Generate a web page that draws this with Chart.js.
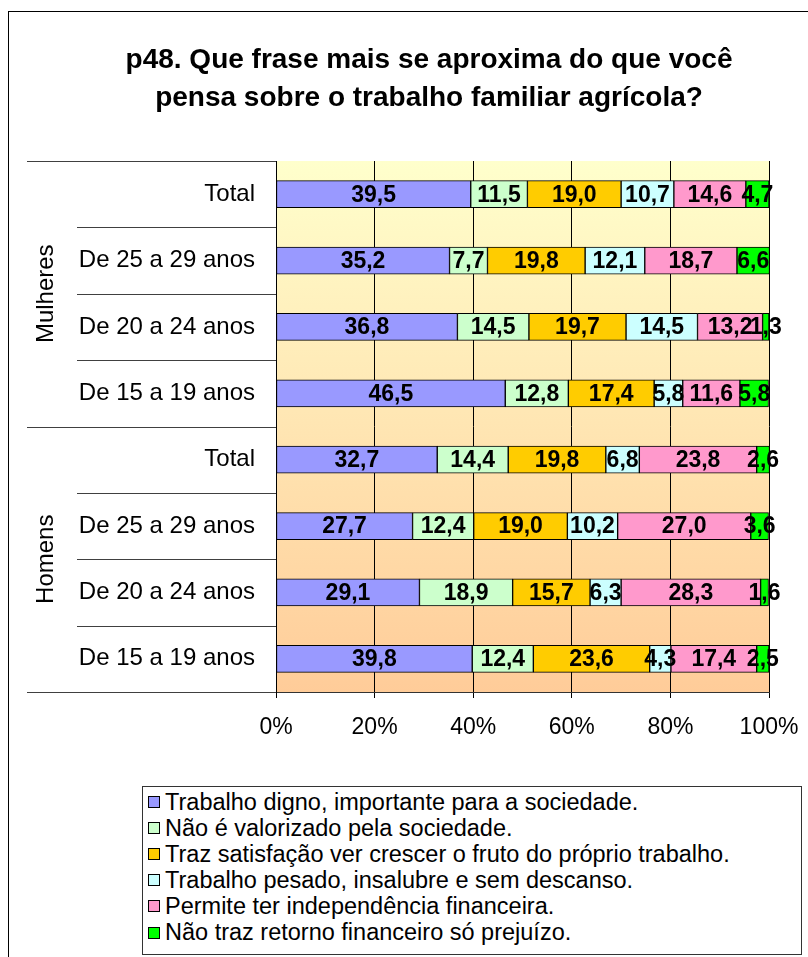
<!DOCTYPE html>
<html>
<head>
<meta charset="utf-8">
<script src="https://cdn.jsdelivr.net/npm/chart.js@4.4.1/dist/chart.umd.min.js"></script>
<style>
  html, body { margin: 0; padding: 0; background: #fff; overflow: hidden; }
  #wrap { position: relative; width: 808px; height: 957px; }
  #c { position: absolute; left: 0; top: 0; }
  #legend {
    position: absolute; left: 142px; top: 786px; width: 660px; height: 169px;
    border: 1px solid #333; box-sizing: border-box; background: #fff;
    font-family: "Liberation Sans", Arial, sans-serif; font-size: 23.5px; color: #000;
    padding: 1.5px 0 0 5px; overflow: hidden;
  }
  .li { height: 26.2px; line-height: 26.2px; white-space: nowrap; display: flex; align-items: center; }
  .sw { display: inline-block; width: 10px; height: 10px; border: 1px solid #000; margin-right: 5px; flex: none; }
</style>
</head>
<body>
<div id="wrap">
  <canvas id="c" width="808" height="957"></canvas>
  <div id="legend"></div>
</div>
<script>
// ---- data ----
const titleLines = ["p48. Que frase mais se aproxima do que você", "pensa sobre o trabalho familiar agrícola?"];
const groups = ["Mulheres", "Homens"];
const categories = [
  "Total", "De 25 a 29 anos", "De 20 a 24 anos", "De 15 a 19 anos",
  "Total", "De 25 a 29 anos", "De 20 a 24 anos", "De 15 a 19 anos"
];
const seriesNames = [
  "Trabalho digno, importante para a sociedade.",
  "Não é valorizado pela sociedade.",
  "Traz satisfação ver crescer o fruto do próprio trabalho.",
  "Trabalho pesado, insalubre e sem descanso.",
  "Permite ter independência financeira.",
  "Não traz retorno financeiro só prejuízo."
];
const trabalhoDigno   = [39.5, 35.2, 36.8, 46.5, 32.7, 27.7, 29.1, 39.8];
const naoValorizado   = [11.5,  7.7, 14.5, 12.8, 14.4, 12.4, 18.9, 12.4];
const trazSatisfacao  = [19.0, 19.8, 19.7, 17.4, 19.8, 19.0, 15.7, 23.6];
const trabalhoPesado  = [10.7, 12.1, 14.5,  5.8,  6.8, 10.2,  6.3,  4.3];
const independencia   = [14.6, 18.7, 13.2, 11.6, 23.8, 27.0, 28.3, 17.4];
const semRetorno      = [ 4.7,  6.6,  1.3,  5.8,  2.6,  3.6,  1.6,  2.5];
const xTicks = [0, 20, 40, 60, 80, 100];

const seriesValues = [trabalhoDigno, naoValorizado, trazSatisfacao, trabalhoPesado, independencia, semRetorno];
const seriesColors = ["#9999FF", "#CCFFCC", "#FFCC00", "#CCFFFF", "#FF99CC", "#00FF00"];

const FONT = '"Liberation Sans", Arial, sans-serif';

// ---- plugins ----
const decorPlugin = {
  id: 'decor',
  beforeDraw(chart) {
    const ctx = chart.ctx, a = chart.chartArea;
    ctx.save();
    ctx.strokeStyle = '#000'; ctx.lineWidth = 1;
    ctx.strokeRect(8.5, 11.5, 1000, 1000);
    const g = ctx.createLinearGradient(0, a.top, 0, a.bottom);
    g.addColorStop(0, '#FFFFCC');
    g.addColorStop(1, '#FFCC99');
    ctx.fillStyle = g;
    ctx.fillRect(a.left, a.top, a.right - a.left, a.bottom - a.top);
    ctx.restore();
  },
  afterDraw(chart) {
    const ctx = chart.ctx, a = chart.chartArea, ys = chart.scales.y;
    const n = categories.length, per = n / groups.length;
    ctx.save();
    ctx.strokeStyle = '#404040'; ctx.lineWidth = 1;
    const bounds = [];
    for (let i = 0; i <= n; i++) {
      let yb;
      if (i === 0) yb = a.top;
      else if (i === n) yb = a.bottom;
      else yb = (ys.getPixelForTick(i - 1) + ys.getPixelForTick(i)) / 2;
      bounds.push(yb);
      const long = (i % per === 0);
      ctx.beginPath();
      const yy = Math.round(yb) + 0.5;
      ctx.moveTo(long ? 27 : 77, yy);
      ctx.lineTo(a.left, yy);
      ctx.stroke();
    }
    ctx.fillStyle = '#000';
    ctx.font = '24px ' + FONT;
    ctx.textAlign = 'center'; ctx.textBaseline = 'middle';
    groups.forEach((gname, gi) => {
      const cy = (bounds[gi * per] + bounds[(gi + 1) * per]) / 2;
      ctx.save();
      ctx.translate(46, cy);
      ctx.rotate(-Math.PI / 2);
      ctx.fillText(gname, 0, 0);
      ctx.restore();
    });
    ctx.restore();
  },
  afterDatasetsDraw(chart) {
    const ctx = chart.ctx;
    ctx.save();
    ctx.font = 'bold 23px ' + FONT;
    ctx.fillStyle = '#000';
    ctx.textAlign = 'center'; ctx.textBaseline = 'middle';
    chart.data.datasets.forEach((ds, di) => {
      const meta = chart.getDatasetMeta(di);
      meta.data.forEach((el, i) => {
        const p = el.getProps(['x', 'y', 'base'], true);
        const v = ds.data[i];
        const txt = v.toFixed(1).replace('.', ',');
        ctx.fillText(txt, (p.x + p.base) / 2, p.y + 1);
      });
    });
    ctx.restore();
  }
};

const datasets = seriesNames.map((name, i) => ({
  label: name,
  data: seriesValues[i],
  backgroundColor: seriesColors[i],
  borderColor: '#000',
  borderWidth: 1,
  borderSkipped: false,
  barThickness: 27
}));

const chart = new Chart(document.getElementById('c'), {
  type: 'bar',
  data: { labels: categories, datasets },
  options: {
    responsive: false,
    animation: false,
    indexAxis: 'y',
    layout: { padding: { left: 50, right: 0, top: 0, bottom: 205 } },
    plugins: {
      legend: { display: false },
      tooltip: { enabled: false },
      title: {
        display: true,
        text: titleLines,
        color: '#000',
        font: { family: FONT, size: 28, weight: 'bold', lineHeight: '38px' },
        padding: { top: 41, bottom: 44 }
      }
    },
    scales: {
      x: {
        stacked: true,
        min: 0, max: 100,
        afterBuildTicks(scale) { scale.ticks = xTicks.map(v => ({ value: v })); },
        afterFit(scale) { scale.paddingLeft = 0; scale.paddingRight = 39; scale.height = 60; },
        ticks: {
          color: '#000',
          font: { family: FONT, size: 23 },
          padding: 16,
          maxRotation: 0,
          callback: (v) => v + '%'
        },
        grid: { color: '#000', lineWidth: 1, tickLength: 6, drawTicks: true },
        border: { display: true, color: '#333', width: 1 }
      },
      y: {
        stacked: true,
        afterFit(scale) { scale.width = 226; scale.paddingTop = 0; scale.paddingBottom = 0; },
        ticks: {
          color: '#000',
          font: { family: FONT, size: 24 },
          padding: 21,
          autoSkip: false
        },
        grid: { display: false, drawTicks: false, tickLength: 0 },
        border: { display: true, color: '#000', width: 1 }
      }
    }
  },
  plugins: [decorPlugin]
});

const leg = document.getElementById('legend');
seriesNames.forEach((name, i) => {
  const row = document.createElement('div');
  row.className = 'li';
  const sw = document.createElement('span');
  sw.className = 'sw';
  sw.style.background = seriesColors[i];
  const t = document.createElement('span');
  t.textContent = name;
  row.appendChild(sw); row.appendChild(t);
  leg.appendChild(row);
});
</script>
</body>
</html>
